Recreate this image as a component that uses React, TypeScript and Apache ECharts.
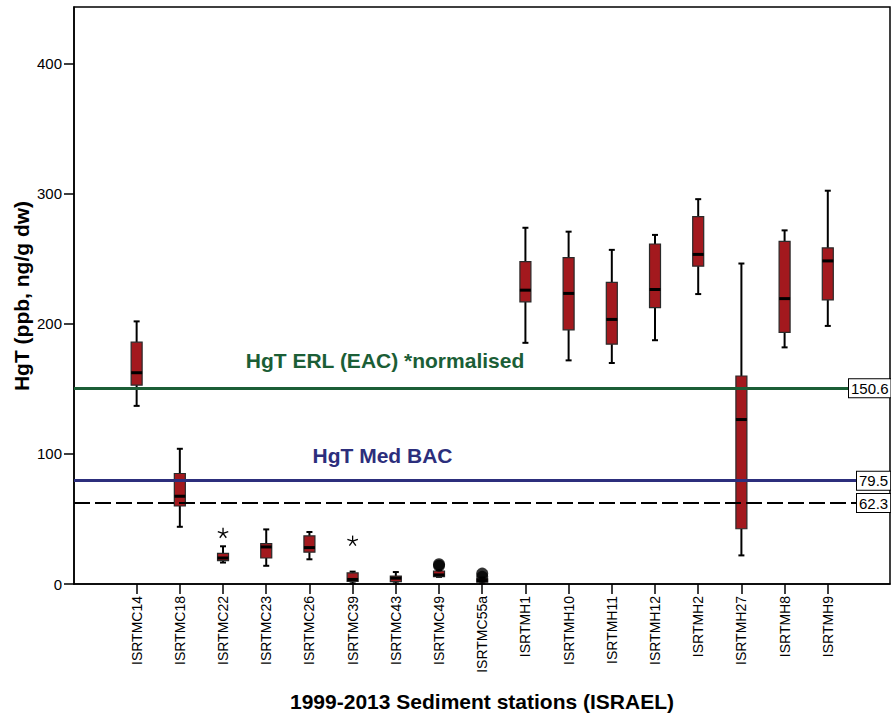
import React, { useEffect, useRef } from "react";
import * as echarts from "echarts";

const categories = [
  "ISRTMC14", "ISRTMC18", "ISRTMC22", "ISRTMC23", "ISRTMC26", "ISRTMC39",
  "ISRTMC43", "ISRTMC49", "ISRTMC55a", "ISRTMH1", "ISRTMH10", "ISRTMH11",
  "ISRTMH12", "ISRTMH2", "ISRTMH27", "ISRTMH8", "ISRTMH9",
];

// [min, q1, median, q3, max]
const boxStats = [
  [137, 153, 162.5, 186, 202],
  [44, 60, 67.5, 85, 104],
  [16.5, 18, 20, 23.5, 29],
  [14, 20, 28.5, 31, 42],
  [19, 24.5, 28, 37, 40],
  [0.5, 2, 3.5, 8.5, 9.5],
  [0.5, 1.8, 4.5, 6, 9.2],
  [5.5, 5.6, 7, 10, 10.5],
  [0.5, 1.5, 2.5, 4, 5],
  [185.5, 217, 226, 248, 274],
  [172, 195.5, 223.5, 251, 271],
  [170, 184.5, 203.5, 232, 257],
  [187.5, 212.5, 226.5, 261.5, 268.5],
  [223, 244.5, 253.5, 282.5, 296],
  [22, 42.5, 126.5, 160, 246.5],
  [182, 193.5, 219.5, 263.5, 272],
  [198.5, 218.5, 248.5, 258.5, 302.5],
];

// extreme outliers (asterisks): [category index, value]
const extremes = [
  [2, 39],
  [5, 33],
];

// outliers (circles): [category index, value]
const outliers = [
  [7, 15.2],
  [7, 14],
  [8, 8],
  [8, 5.5],
];

const yTicks = [0, 100, 200, 300, 400];
const refERL = 150.6;
const refBAC = 79.5;
const refOther = 62.3;

const FONT = '"Liberation Sans", Arial, sans-serif';
const BOX_RED = "#a3191e";
const GREEN = "#1b5e36";
const BLUE = "#2c2e7c";

const refLabel = (text: string, distance: number) => ({
  show: true,
  position: "end",
  distance,
  formatter: text,
  fontSize: 15,
  fontFamily: FONT,
  color: "#000",
  backgroundColor: "#fff",
  borderColor: "#000",
  borderWidth: 1,
  padding: [2, 2, 1, 2],
});

export default function App() {
  const ref = useRef<HTMLDivElement>(null);

  useEffect(() => {
    document.body.style.margin = "0";
    if (!ref.current) return;
    const chart = echarts.init(ref.current, null, { renderer: "svg" });
    const catIdx = categories.map((_, i) => i);

    const option: any = {
      animation: false,
      backgroundColor: "#fff",
      textStyle: { fontFamily: FONT },
      grid: {
        left: 74,
        top: 7,
        width: 816,
        height: 577,
        show: true,
        borderColor: "#000",
        borderWidth: 1.5,
        backgroundColor: "transparent",
      },
      xAxis: {
        type: "value",
        min: -1.45,
        max: 17.44,
        splitLine: { show: false },
        axisLine: { show: true, onZero: false, lineStyle: { color: "#000", width: 1.5 } },
        axisTick: { show: true, inside: false, length: 10, customValues: catIdx, lineStyle: { color: "#000", width: 1.5 } },
        axisLabel: {
          customValues: catIdx,
          rotate: 90,
          margin: 12,
          fontSize: 14,
          color: "#000",
          fontFamily: FONT,
          formatter: (v: number) => categories[Math.round(v)] ?? "",
        },
      },
      yAxis: {
        type: "value",
        min: 0,
        max: 443.8,
        splitLine: { show: false },
        axisLine: { show: true, onZero: false, lineStyle: { color: "#000", width: 1.5 } },
        axisTick: { show: true, inside: false, length: 10, customValues: yTicks, lineStyle: { color: "#000", width: 1.5 } },
        axisLabel: {
          customValues: yTicks,
          margin: 12,
          fontSize: 15,
          color: "#000",
          fontFamily: FONT,
        },
      },
      graphic: [
        {
          type: "text",
          x: 21,
          y: 296,
          rotation: Math.PI / 2,
          style: {
            text: "HgT (ppb, ng/g dw)",
            fontSize: 21,
            fontWeight: "bold",
            fontFamily: FONT,
            fill: "#000",
            align: "center",
            verticalAlign: "middle",
          },
        },
        {
          type: "text",
          x: 482,
          y: 701,
          style: {
            text: "1999-2013 Sediment stations (ISRAEL)",
            fontSize: 21,
            fontWeight: "bold",
            fontFamily: FONT,
            fill: "#000",
            align: "center",
            verticalAlign: "middle",
          },
        },
        {
          type: "text",
          x: 385,
          y: 360.5,
          z: 10,
          style: {
            text: "HgT ERL (EAC) *normalised",
            fontSize: 21,
            fontWeight: "bold",
            fontFamily: FONT,
            fill: GREEN,
            align: "center",
            verticalAlign: "middle",
          },
        },
        {
          type: "text",
          x: 382.5,
          y: 455,
          z: 10,
          style: {
            text: "HgT Med BAC",
            fontSize: 21,
            fontWeight: "bold",
            fontFamily: FONT,
            fill: BLUE,
            align: "center",
            verticalAlign: "middle",
          },
        },
      ],
      series: [
        {
          type: "custom",
          name: "box",
          z: 2,
          data: boxStats.map((s, i) => [i, ...s]),
          encode: { x: 0, y: [1, 2, 3, 4, 5] },
          renderItem: (params: any, api: any) => {
            const x = api.value(0);
            const pMin = api.coord([x, api.value(1)]);
            const pQ1 = api.coord([x, api.value(2)]);
            const pMed = api.coord([x, api.value(3)]);
            const pQ3 = api.coord([x, api.value(4)]);
            const pMax = api.coord([x, api.value(5)]);
            const cx = pMin[0];
            const hw = 5.5;
            const cap = 3;
            const wl = { stroke: "#000", lineWidth: 2 };
            return {
              type: "group",
              children: [
                { type: "line", shape: { x1: cx, y1: pMax[1], x2: cx, y2: pQ3[1] }, style: wl },
                { type: "line", shape: { x1: cx, y1: pQ1[1], x2: cx, y2: pMin[1] }, style: wl },
                { type: "line", shape: { x1: cx - cap, y1: pMax[1], x2: cx + cap, y2: pMax[1] }, style: wl },
                { type: "line", shape: { x1: cx - cap, y1: pMin[1], x2: cx + cap, y2: pMin[1] }, style: wl },
                {
                  type: "rect",
                  shape: { x: cx - hw, y: pQ3[1], width: hw * 2, height: pQ1[1] - pQ3[1] },
                  style: { fill: BOX_RED, stroke: "#2a2a2a", lineWidth: 1.2 },
                },
                {
                  type: "line",
                  shape: { x1: cx - hw, y1: pMed[1], x2: cx + hw, y2: pMed[1] },
                  style: { stroke: "#000", lineWidth: 3 },
                },
              ],
            };
          },
        },
        {
          type: "custom",
          name: "extreme",
          z: 3,
          data: extremes,
          encode: { x: 0, y: 1 },
          renderItem: (params: any, api: any) => {
            const p = api.coord([api.value(0), api.value(1)]);
            const r = 5.5;
            const children = [0, 1, 2, 3, 4].map((k) => {
              const a = -Math.PI / 2 + (k * 2 * Math.PI) / 5;
              return {
                type: "line",
                shape: { x1: p[0], y1: p[1], x2: p[0] + r * Math.cos(a), y2: p[1] + r * Math.sin(a) },
                style: { stroke: "#000", lineWidth: 1.3 },
              };
            });
            return { type: "group", children };
          },
        },
        {
          type: "scatter",
          name: "outlier",
          z: 4,
          data: outliers,
          symbol: "circle",
          symbolSize: 12,
          itemStyle: { color: "#000" },
          markLine: {
            silent: true,
            symbol: "none",
            z: 6,
            data: [
              {
                yAxis: refERL,
                lineStyle: { color: GREEN, width: 3, type: "solid" },
                label: refLabel("150.6", -41),
              },
              {
                yAxis: refBAC,
                lineStyle: { color: BLUE, width: 3, type: "solid" },
                label: refLabel("79.5", -33),
              },
              {
                yAxis: refOther,
                lineStyle: { color: "#000", width: 2, type: [16, 5] },
                label: refLabel("62.3", -33),
              },
            ],
          },
        },
      ],
    };

    chart.setOption(option);
    return () => chart.dispose();
  }, []);

  return <div ref={ref} style={{ width: 891, height: 715 }} />;
}
